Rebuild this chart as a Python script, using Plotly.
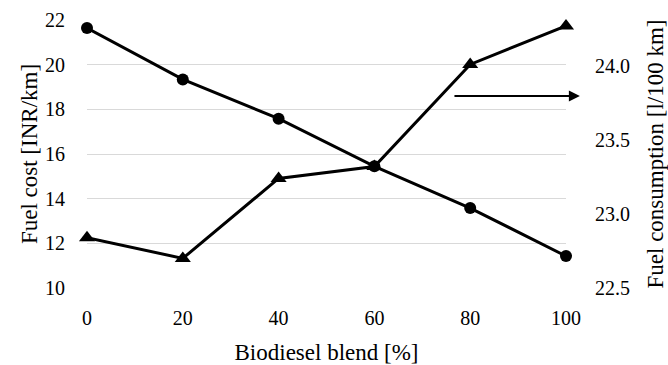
import plotly.graph_objects as go

blend = [0, 20, 40, 60, 80, 100]
fuel_cost = [21.64, 19.34, 17.58, 15.45, 13.58, 11.43]
fuel_consumption = [22.84, 22.70, 23.24, 23.32, 24.01, 24.27]

FONT = "Liberation Serif"
TICK = 20
TITLE = 23

fig = go.Figure()
fig.add_trace(go.Scatter(
    x=blend, y=fuel_cost, mode="lines+markers", yaxis="y",
    line=dict(color="black", width=3),
    marker=dict(symbol="circle", size=12, color="black"),
    cliponaxis=False, showlegend=False))
fig.add_trace(go.Scatter(
    x=blend, y=fuel_consumption, mode="lines+markers", yaxis="y2",
    line=dict(color="black", width=3),
    marker=dict(symbol="triangle-up", size=14, color="black"),
    cliponaxis=False, showlegend=False))

fig.add_annotation(
    x=102.9, y=18.6, ax=76.4, ay=18.6, xref="x", yref="y", axref="x", ayref="y",
    text="", showarrow=True, arrowhead=2, arrowsize=1.1, arrowwidth=2,
    arrowcolor="black")

fig.update_layout(
    width=668, height=365,
    margin=dict(l=87, r=102, t=20, b=77),
    plot_bgcolor="white", paper_bgcolor="white",
    font=dict(family=FONT, size=TICK, color="black"),
    xaxis=dict(
        range=[0, 100], tickvals=blend, showgrid=False, zeroline=False,
        showline=False, ticks="outside", ticklen=12, tickcolor="rgba(0,0,0,0)",
        automargin=False,
        title=dict(text="Biodiesel blend [%]", standoff=15,
                   font=dict(family=FONT, size=TITLE)),
        tickfont=dict(family=FONT, size=TICK)),
    yaxis=dict(
        range=[10, 22], dtick=2, showgrid=True, gridcolor="#d9d9d9", gridwidth=1,
        zeroline=False, showline=False, ticks="outside", ticklen=17,
        tickcolor="rgba(0,0,0,0)", automargin=False,
        title=dict(text="Fuel cost [INR/km]", standoff=0,
                   font=dict(family=FONT, size=TITLE)),
        tickfont=dict(family=FONT, size=TICK)),
    yaxis2=dict(
        range=[22.5, 24.31], tickvals=[22.5, 23.0, 23.5, 24.0],
        ticktext=["22.5", "23.0", "23.5", "24.0"],
        overlaying="y", side="right", showgrid=False, zeroline=False,
        showline=False, ticks="outside", ticklen=24, tickcolor="rgba(0,0,0,0)",
        automargin=False,
        title=dict(text="Fuel consumption [l/100 km]", standoff=18,
                   font=dict(family=FONT, size=TITLE)),
        tickfont=dict(family=FONT, size=TICK)),
)

fig.write_html("out.html")
